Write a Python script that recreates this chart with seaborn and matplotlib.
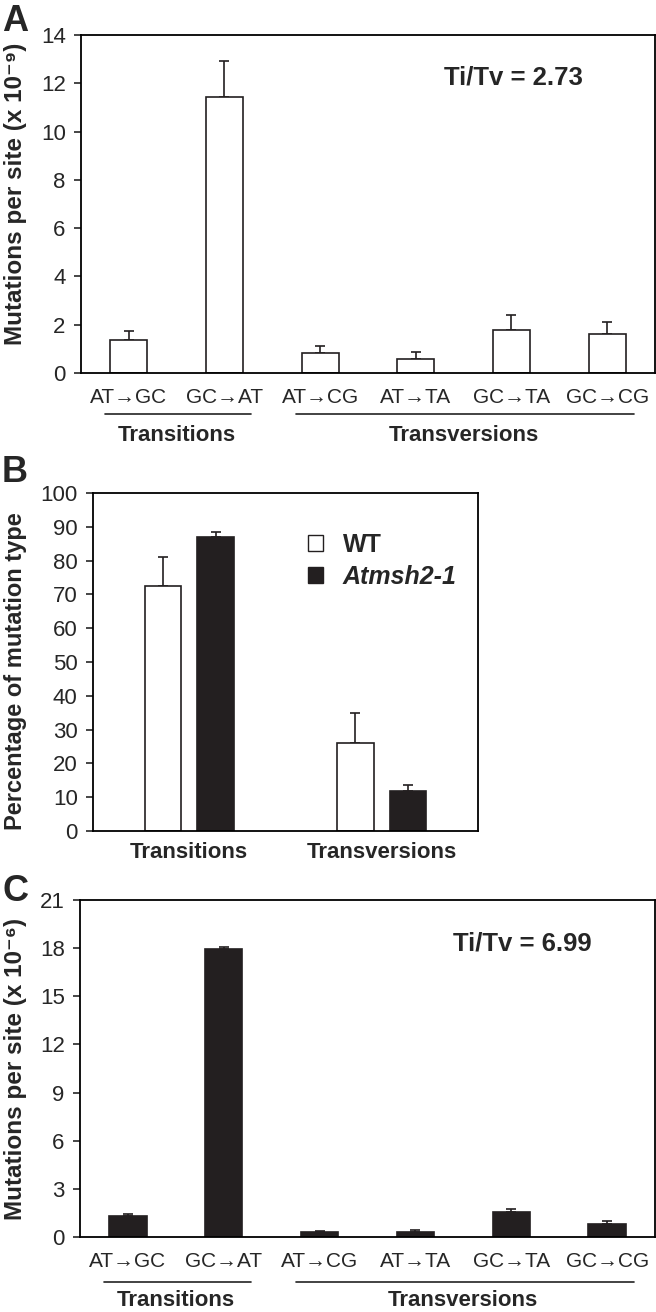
import matplotlib
matplotlib.use("Agg")
import matplotlib.pyplot as plt
from matplotlib.patches import Patch
import seaborn as sns
import pandas as pd
import numpy as np

# ---------------- data ----------------
categories = ["AT→GC", "GC→AT", "AT→CG", "AT→TA", "GC→TA", "GC→CG"]
wt_rate = [1.38, 11.45, 0.83, 0.59, 1.80, 1.61]          # x 10^-9
wt_rate_upper = [1.74, 12.93, 1.13, 0.85, 2.41, 2.13]
msh_rate = [1.31, 17.96, 0.29, 0.29, 1.57, 0.81]         # x 10^-6
msh_rate_upper = [1.45, 18.07, 0.40, 0.42, 1.72, 0.98]

classes = ["Transitions", "Transversions"]
genotypes = ["WT", "Atmsh2-1"]
pct_wt = [72.4, 25.9]
pct_wt_upper = [81.0, 34.8]
pct_msh = [86.9, 11.8]
pct_msh_upper = [88.4, 13.7]

titv_a = "Ti/Tv = 2.73"
titv_c = "Ti/Tv = 6.99"

# ---------------- style ----------------
sns.set_style("ticks")
plt.rcParams["font.family"] = ["Liberation Sans", "DejaVu Sans"]
plt.rcParams["axes.linewidth"] = 1.3

DARK = "#231f20"
W, H = 656, 1312
fig = plt.figure(figsize=(W / 100, H / 100), dpi=100)

TICK_FS = 16
CAT_FS = 15
GROUP_FS = 16
YLAB_FS = 17
YLAB_AC_FS = 17.5
TITV_FS = 18.5


def px_axes(left, top, right, bottom):
    return fig.add_axes([left / W, 1 - bottom / H, (right - left) / W, (bottom - top) / H])


def style_axes(ax, ymax, ystep):
    ax.set_ylim(0, ymax)
    ax.set_yticks(np.arange(0, ymax + 0.01, ystep))
    for s in ax.spines.values():
        s.set_visible(True)
        s.set_linewidth(1.3)
        s.set_color("black")
    ax.tick_params(axis="y", direction="out", length=5, width=1.2, labelsize=TICK_FS, pad=6)
    ax.set_xlabel("")


def group_annot(ax, line_y, text_y):
    tr = ax.get_xaxis_transform()
    groups = [("Transitions", 0, 1), ("Transversions", 2, 5)]
    for name, i0, i1 in groups:
        ax.plot([i0 - 0.25, i1 + 0.28], [line_y, line_y], transform=tr, clip_on=False,
                color="#222222", lw=1.2)
        ax.text((i0 + i1) / 2, text_y, name, transform=tr, ha="center", va="top",
                fontsize=GROUP_FS, fontweight="bold")


def add_errors(ax, vals, uppers, patches):
    xs = [p.get_x() + p.get_width() / 2 for p in patches]
    up = np.array(uppers) - np.array(vals)
    ax.errorbar(xs, vals, yerr=[np.zeros_like(up), up], fmt="none", ecolor=DARK,
                elinewidth=1.2, capsize=3.6, capthick=1.2, zorder=1)


# ---------------- Panel A ----------------
axA = px_axes(81, 35, 655, 373)
dfA = pd.DataFrame({"cat": categories, "val": wt_rate})
sns.barplot(data=dfA, x="cat", y="val", color="white", edgecolor=DARK, linewidth=1.2,
            width=0.39, saturation=1, ax=axA, zorder=2)
add_errors(axA, wt_rate, wt_rate_upper, axA.patches)
axA.set_xlim(-0.5, 5.5)
style_axes(axA, 14, 2)
axA.tick_params(axis="x", length=0, labelsize=CAT_FS, pad=11)
axA.set_ylabel("Mutations per site (x 10⁻⁹)", fontsize=YLAB_AC_FS, fontweight="bold")
axA.yaxis.set_label_coords(-0.094, 0.53)
axA.text(0.753, 0.874, titv_a, transform=axA.transAxes, ha="center", va="center",
         fontsize=TITV_FS, fontweight="bold")
group_annot(axA, -0.121, -0.155)

# ---------------- Panel B ----------------
axB = px_axes(93, 493, 478, 831)
dfB = pd.DataFrame({
    "cls": classes * 2,
    "geno": [genotypes[0]] * 2 + [genotypes[1]] * 2,
    "pct": pct_wt + pct_msh,
})
sns.barplot(data=dfB, x="cls", y="pct", hue="geno", hue_order=genotypes,
            palette={"WT": "white", "Atmsh2-1": DARK}, edgecolor=DARK, linewidth=1.2,
            width=0.55, gap=0.31, saturation=1, legend=False, ax=axB, zorder=2)
bars = [p for p in axB.patches if p.get_height() > 0]
bars_sorted = sorted(bars, key=lambda p: p.get_x())
add_errors(axB, [pct_wt[0], pct_msh[0], pct_wt[1], pct_msh[1]],
           [pct_wt_upper[0], pct_msh_upper[0], pct_wt_upper[1], pct_msh_upper[1]], bars_sorted)
axB.set_xlim(-0.5, 1.5)
style_axes(axB, 100, 10)
axB.tick_params(axis="x", length=0, labelsize=GROUP_FS, pad=8)
for t in axB.get_xticklabels():
    t.set_fontweight("bold")
axB.set_ylabel("Percentage of mutation type", fontsize=YLAB_FS, fontweight="bold")
axB.yaxis.set_label_coords(-0.171, 0.473)
handles = [Patch(facecolor="white", edgecolor=DARK, linewidth=1.0),
           Patch(facecolor=DARK, edgecolor=DARK, linewidth=1.0)]
leg = axB.legend(handles, genotypes, loc="upper left", bbox_to_anchor=(0.558, 0.883),
                 frameon=False, fontsize=18, handlelength=0.6, handleheight=0.6,
                 handletextpad=0.8, labelspacing=0.32, borderpad=0, borderaxespad=0)
for i, t in enumerate(leg.get_texts()):
    t.set_fontweight("bold")
    if i == 1:
        t.set_fontstyle("italic")

# ---------------- Panel C ----------------
axC = px_axes(80, 900, 655, 1237)
dfC = pd.DataFrame({"cat": categories, "val": msh_rate})
sns.barplot(data=dfC, x="cat", y="val", color=DARK, edgecolor=DARK, linewidth=1.2,
            width=0.39, saturation=1, ax=axC, zorder=2)
add_errors(axC, msh_rate, msh_rate_upper, axC.patches)
axC.set_xlim(-0.5, 5.5)
style_axes(axC, 21, 3)
axC.tick_params(axis="x", length=0, labelsize=CAT_FS, pad=11)
axC.set_ylabel("Mutations per site (x 10⁻⁶)", fontsize=YLAB_AC_FS, fontweight="bold")
axC.yaxis.set_label_coords(-0.092, 0.5)
axC.text(0.77, 0.872, titv_c, transform=axC.transAxes, ha="center", va="center",
         fontsize=TITV_FS, fontweight="bold")
group_annot(axC, -0.1335, -0.158)

# ---------------- panel letters ----------------
for letter, top in [("A", 4), ("B", 455), ("C", 874)]:
    fig.text(2 / W, 1 - top / H, letter, ha="left", va="top", fontsize=26, fontweight="bold")

fig.savefig("out.png", dpi=100)
